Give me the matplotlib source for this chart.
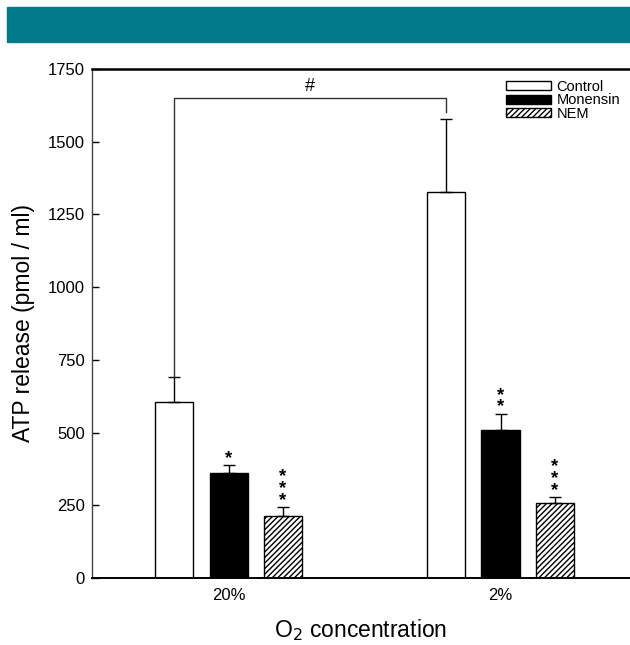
import matplotlib.pyplot as plt
from matplotlib.patches import Rectangle

plt.rcParams['font.family'] = ['Liberation Sans', 'DejaVu Sans']
plt.rcParams['hatch.linewidth'] = 1.0

# data
groups = ['20%', '2%']
treatments = ['Control', 'Monensin', 'NEM']
means = {
    'Control': [606, 1328],
    'Monensin': [362, 509],
    'NEM': [214, 259],
}
errors = {
    'Control': [86, 250],
    'Monensin': [27, 56],
    'NEM': [29, 18],
}
stars = {
    'Control': [0, 0],
    'Monensin': [1, 2],
    'NEM': [3, 3],
}
styles = {
    'Control': dict(color='white', hatch=None),
    'Monensin': dict(color='black', hatch=None),
    'NEM': dict(color='white', hatch='//////'),
}

fig = plt.figure(figsize=(6.3, 6.45), dpi=100)
# teal banner on top
fig.patches.append(Rectangle((7 / 630, 1 - 42 / 645), 1 - 7 / 630, 35 / 645,
                             transform=fig.transFigure, color='#017b8a', zorder=0))

ax = fig.add_axes([92 / 630, 67 / 645, 1 - 92 / 630, (578 - 69) / 645])

offsets = [-0.2, 0.0, 0.2]
width = 0.14
for t, off in zip(treatments, offsets):
    xs = [i + off for i in range(len(groups))]
    st = styles[t]
    ax.bar(xs, means[t], width, color=st['color'], edgecolor='black',
           linewidth=1.0, hatch=st['hatch'], label=t, zorder=2)
    ax.errorbar(xs, means[t], yerr=[[0] * len(xs), errors[t]], fmt='none',
                ecolor='black', elinewidth=1.0, capsize=4, capthick=1.0, zorder=3)
    for x, m, e, n in zip(xs, means[t], errors[t], stars[t]):
        if n:
            ax.text(x, m + e - 6, '\n'.join(['*'] * n), ha='center', va='bottom',
                    fontsize=13.5, fontweight='bold', linespacing=0.6, zorder=4)

# bracket between the two control bars
c0 = 0 + offsets[0]
c1 = 1 + offsets[0]
top_c0 = means['Control'][0] + errors['Control'][0]
ax.plot([c0, c0, c1, c1], [top_c0, 1649, 1649, 1603], color='#333333',
        linewidth=1.0, zorder=3)
ax.text((c0 + c1) / 2, 1690, '#', ha='center', va='center', fontsize=13)

ax.set_xlim(-0.502, 1.476)
ax.set_ylim(0, 1750)
ax.set_yticks([0, 250, 500, 750, 1000, 1250, 1500, 1750])
ax.set_xticks(range(len(groups)))
ax.set_xticklabels(groups)
ax.tick_params(axis='y', direction='in', length=5, width=1, pad=5, labelsize=12)
ax.tick_params(axis='x', length=0, pad=7, labelsize=12)

ax.spines['right'].set_visible(False)
ax.spines['top'].set_linewidth(1.8)
ax.spines['bottom'].set_linewidth(1.4)
ax.spines['left'].set_linewidth(1.0)
ax.spines['left'].set_color('#444444')

ax.set_ylabel('ATP release (pmol / ml)', fontsize=16.5, labelpad=9)
ax.set_xlabel('O$_2$ concentration', fontsize=16.5, labelpad=10)

ax.legend(loc='upper left', bbox_to_anchor=(506 / 630, 1 - 80 / 645),
          bbox_transform=fig.transFigure, frameon=False, fontsize=10.5,
          handlelength=3.1, handleheight=0.55, labelspacing=-0.05,
          handletextpad=0.35, borderpad=0, borderaxespad=0)

fig.savefig('out.png', dpi=100)
